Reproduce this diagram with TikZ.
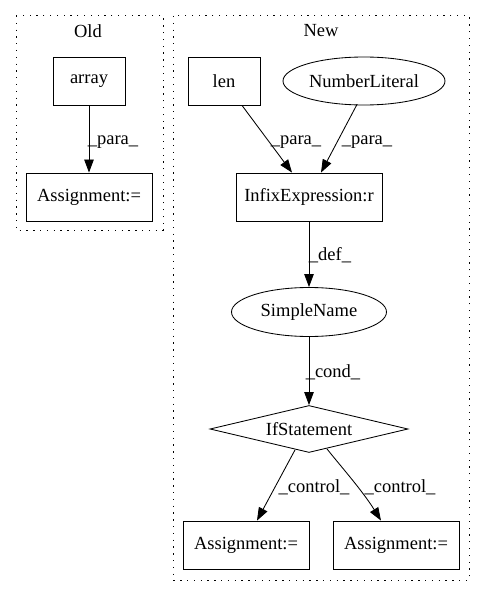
\documentclass[tikz,border=0pt]{standalone}
\usepackage{fontspec}
\setmainfont{Liberation Serif}
\usetikzlibrary{arrows.meta,shapes.geometric,calc}
\begin{document}
\begin{tikzpicture}[x=1pt,y=-1pt,
  every node/.style={font=\fontsize{18.5}{21}\selectfont, inner sep=0pt},
  box/.style={draw, rectangle, line width=0.85pt, minimum height=48pt},
  oval/.style={draw, ellipse, line width=0.85pt, minimum height=48pt},
  cluster/.style={line width=1pt, dash pattern=on 1.3pt off 5.5pt},
  edge/.style={line width=0.85pt, -{Triangle[length=13pt,width=9.5pt]}},
  elabel/.style={anchor=center}]
\useasboundingbox (0,0) rectangle (485,596);
% clusters
\draw[cluster] (16,16) rectangle (163,230);
\draw[cluster] (173,16) rectangle (469,580);
\node (oldlbl) at (88,31) {Old};
\node (newlbl) at (321,31) {New};
% nodes
\node[box, minimum width=72pt] (array) at (89,81) {array};
\node[box, minimum width=126pt] (assignOld) at (89,197) {Assignment:=};
\node[box, minimum width=72pt] (len) at (224,81) {len};
\node[oval, minimum width=162pt] (numlit) at (364,81) {NumberLiteral};
\node[box, minimum width=146pt] (infix) at (309,197) {InfixExpression:r};
\node[oval, minimum width=155pt, minimum height=49pt] (simple) at (309,312) {SimpleName};
\node[draw, diamond, line width=0.85pt, aspect=4.2, minimum width=198pt, minimum height=47pt] (ifst) at (309,429) {IfStatement};
\node[box, minimum width=126pt] (assignL) at (246,545) {Assignment:=};
\node[box, minimum width=126pt] (assignR) at (396,545) {Assignment:=};
% edges
\draw[edge] (array.south) -- (assignOld.north);
\draw[edge] ($(len.south)+(18,0)$) -- ($(infix.north)+(-17,0)$);
\draw[edge] ($(numlit.south)+(-7,-1)$) -- ($(infix.north)+(12,0)$);
\draw[edge] (infix.south) -- (simple.north);
\draw[edge] (simple.south) -- (ifst.north);
\draw[edge] ($(ifst.south)+(-14,-3)$) -- ($(assignL.north)+(11,0)$);
\draw[edge] ($(ifst.south)+(18,-4)$) .. controls (338,463) and (362,490) .. ($(assignR.north)+(-15,0)$);
% edge labels
\node[elabel] (l1) at (113,142) {\_para\_};
\node[elabel] (l2) at (296,142) {\_para\_};
\node[elabel] (l3) at (367,142) {\_para\_};
\node[elabel] (l4) at (330,255) {\_def\_};
\node[elabel] (l5) at (333,372) {\_cond\_};
\node[elabel] (l6) at (314,487) {\_control\_};
\node[elabel] (l7) at (400,487) {\_control\_};
\end{tikzpicture}
\end{document}
